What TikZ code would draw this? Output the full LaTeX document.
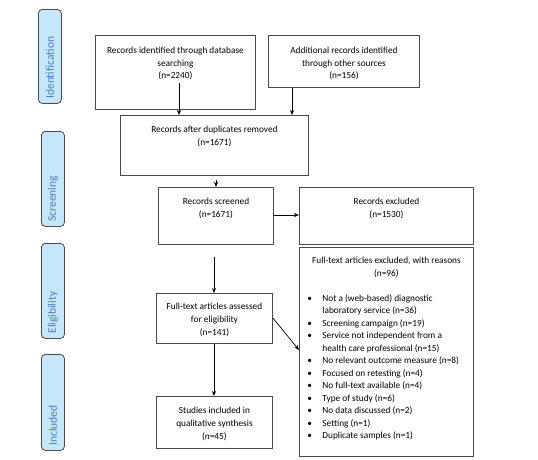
\documentclass[tikz,border=0pt]{standalone}
\usepackage{fontspec}
\setmainfont{Carlito}
\usetikzlibrary{arrows.meta}
\definecolor{lblfill}{HTML}{C6E6FA}
\definecolor{lbltext}{HTML}{4A7EBB}
\definecolor{boxline}{HTML}{4A4A4A}
\newcommand{\bxt}[4]{\parbox[c][#2pt][t]{#1pt}{\fontsize{9.3pt}{12.6pt}\selectfont\centering\vspace*{#3pt}#4\par}}
\newcommand{\bitem}[1]{\noindent\hangindent=23pt\hangafter=1\makebox[23pt][l]{\hspace{8pt}•}#1\par}
\begin{document}
\begin{tikzpicture}[x=1pt,y=-1pt,
  box/.style={draw=boxline,line width=0.9pt,inner sep=0pt,anchor=north west},
  lbl/.style={draw=boxline,fill=lblfill,line width=0.8pt,rounded corners=4pt,
    inner sep=0pt,anchor=north west},
  lbltxt/.style={rotate=90,anchor=west,inner sep=0pt,text=lbltext,
    font=\fontsize{11.5pt}{13pt}\selectfont},
  arr/.style={-{Stealth[length=5pt,width=4pt]},line width=0.7pt,black}]
\useasboundingbox (0,0) rectangle (538,459);
% phase labels
\node[lbl,minimum width=23pt,minimum height=94pt] (lid) at (38,9) {};
\node[lbltxt] (tid) at ([yshift=5pt]lid.south) {Identification};
\node[lbl,minimum width=23pt,minimum height=95pt] (lsc) at (41,131) {};
\node[lbltxt] (tsc) at ([yshift=5pt]lsc.south) {Screening};
\node[lbl,minimum width=23pt,minimum height=95pt] (lel) at (41,243) {};
\node[lbltxt] (tel) at ([yshift=5pt]lel.south) {Eligibility};
\node[lbl,minimum width=23pt,minimum height=96pt] (lin) at (41,354) {};
\node[lbltxt] (tin) at ([yshift=5pt]lin.south) {Included};
% boxes
\node[box] (b1) at (95,35) {\bxt{160}{74}{11.5}{Records identified through database\\ searching\\ (n=2240)}};
\node[box] (b2) at (268,35) {\bxt{151}{52}{11.5}{Additional records identified\\ through other sources\\ (n=156)}};
\node[box] (b3) at (120,115) {\bxt{188}{60}{11}{Records after duplicates removed\\ (n=1671)}};
\node[box] (b4) at (158,187) {\bxt{115}{57}{11}{Records screened\\ (n=1671)}};
\node[box] (b5) at (299,187) {\bxt{174}{57}{11}{Records excluded\\ (n=1530)}};
\node[box] (b7) at (156,293) {\bxt{116}{50}{10}{Full-text articles assessed\\ for eligibility\\ (n=141)}};
\node[box] (b8) at (156,396) {\bxt{116}{52}{11}{Studies included in\\ qualitative synthesis\\ (n=45)}};
\node[box] (b6) at (299,247) {\parbox[c][209pt][t]{174pt}{\fontsize{9.3pt}{12.5pt}\selectfont
  {\centering\vspace*{10pt}Full-text articles excluded, with reasons\\ (n=96)\par}
  \vspace{12.5pt}
  \bitem{Not a (web-based) diagnostic\newline laboratory service (n=36)}
  \bitem{Screening campaign (n=19)}
  \bitem{Service not independent from a\newline health care professional (n=15)}
  \bitem{No relevant outcome measure (n=8)}
  \bitem{Focused on retesting (n=4)}
  \bitem{No full-text available (n=4)}
  \bitem{Type of study (n=6)}
  \bitem{No data discussed (n=2)}
  \bitem{Setting (n=1)}
  \bitem{Duplicate samples (n=1)}}};
% free ends
\coordinate (s1) at (179,83);
\coordinate (s3) at (216,180);
\coordinate (s4) at (214,257);
% connectors
\draw[arr] (s1) -- (s1 |- b3.north);
\draw[arr] (b2.south -| 292,0) -- (b3.north -| 292,0);
\draw[arr] (s3) -- (s3 |- b4.north);
\draw[arr] (b4.east |- 0,215) -- (b5.west |- 0,215);
\draw[arr] (s4) -- (s4 |- b7.north);
\draw[arr] (b7.east |- 0,318) -- (b6.west |- 0,350);
\draw[arr] (b7.south -| 214,0) -- (b8.north -| 214,0);
\end{tikzpicture}
\end{document}
